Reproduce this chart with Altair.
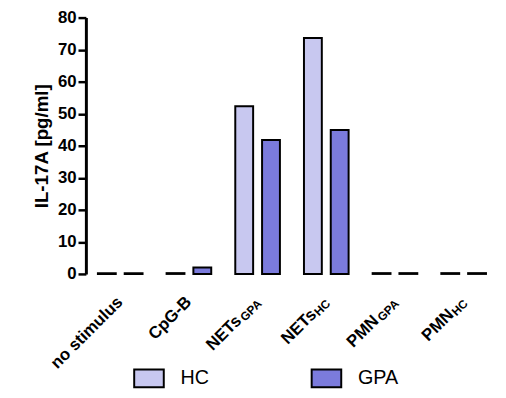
import altair as alt
import pandas as pd

categories = ["no stimulus", "CpG-B", "NETsGPA", "NETsHC", "PMNGPA", "PMNHC"]
label_main = ["no stimulus", "CpG-B", "NETs", "NETs", "PMN", "PMN"]
label_sub = ["", "", "GPA", "HC", "GPA", "HC"]
hc_values = [0.25, 0.25, 52.3, 73.6, 0.25, 0.25]
gpa_values = [0.25, 2.0, 41.8, 44.9, 0.25, 0.25]
series = ["HC", "GPA"]
colors = ["#c8c8f0", "#7b7bdc"]
y_ticks = [0, 10, 20, 30, 40, 50, 60, 70, 80]

rows = []
for c, h, g in zip(categories, hc_values, gpa_values):
    rows.append({"category": c, "group": "HC", "value": h})
    rows.append({"category": c, "group": "GPA", "value": g})
bars_df = pd.DataFrame(rows)
labels_df = pd.DataFrame({"category": categories, "main": label_main, "sub": label_sub})

FONT = "Liberation Sans"
W, H = 418, 260

x_enc = alt.X(
    "category:N",
    sort=categories,
    scale=alt.Scale(paddingInner=0.35, paddingOuter=0.175),
    axis=alt.Axis(labels=False, title=None, domainColor="black", domainWidth=3,
                  tickColor="black", tickWidth=2.5, tickSize=8, grid=False),
)

bars = alt.Chart(bars_df).mark_bar(stroke="black", strokeWidth=2).encode(
    x=x_enc,
    xOffset=alt.XOffset("group:N", sort=series,
                        scale=alt.Scale(paddingInner=1 / 3, paddingOuter=0)),
    y=alt.Y(
        "value:Q",
        scale=alt.Scale(domain=[0, 80], nice=False),
        axis=alt.Axis(values=y_ticks, title="IL-17A [pg/ml]", titleFont=FONT,
                      titleFontSize=19, titleFontWeight="bold", titleColor="black",
                      titlePadding=6, labelFont=FONT, labelFontSize=17,
                      labelFontWeight="bold", labelColor="black", labelPadding=2,
                      domainColor="black", domainWidth=3, tickColor="black",
                      tickWidth=2.5, tickSize=8, grid=False),
    ),
    color=alt.Color(
        "group:N",
        sort=series,
        scale=alt.Scale(domain=series, range=colors),
        legend=alt.Legend(
            title=None, orient="none", legendX=48, legendY=350,
            direction="horizontal", columnPadding=100,
            symbolType="M-1,-0.6H1V0.6H-1Z", symbolSize=900,
            symbolStrokeColor="black", symbolStrokeWidth=2,
            labelFont=FONT, labelFontSize=20, labelColor="black", labelOffset=16,
            padding=0,
        ),
    ),
)

x_lab = alt.X("category:N", sort=categories, axis=None)
LAB_Y = H + 26


def label_layer(filt, field, size, dx=0, dy=0):
    return alt.Chart(labels_df).transform_filter(filt).mark_text(
        align="right", baseline="middle", font=FONT, fontSize=size,
        fontWeight="bold", color="black", dx=dx, dy=dy,
    ).encode(x=x_lab, y=alt.value(LAB_Y), text=f"{field}:N", angle=alt.value(315))


plain = label_layer("datum.sub == ''", "main", 17)
main_gpa = label_layer("datum.sub == 'GPA'", "main", 17, dx=-27)
main_hc = label_layer("datum.sub == 'HC'", "main", 17, dx=-18)
subs = label_layer("datum.sub != ''", "sub", 12, dy=3)

chart = alt.layer(bars, plain, main_gpa, main_hc, subs).properties(
    width=W, height=H,
    autosize=alt.AutoSizeParams(type="none"),
    padding={"left": 79, "top": 7, "right": 0, "bottom": 115},
    background="white",
).configure_view(stroke=None)

chart.save("out.html", embed_options={"renderer": "svg", "actions": False})
